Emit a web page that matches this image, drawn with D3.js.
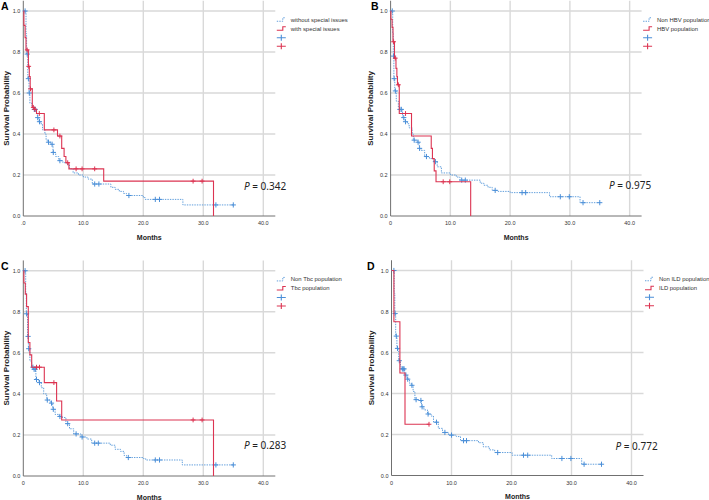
<!DOCTYPE html>
<html><head><meta charset="utf-8">
<script src="https://cdn.jsdelivr.net/npm/d3@7"></script>
<style>body{margin:0;background:#fff}</style>
</head><body>
<svg id="chart" width="709" height="500"></svg>
<script>
// ---------------- DATA ----------------
const panelLetters = ["A", "B", "C", "D"];
const legendLabels = [
  ["without special issues", "with special issues"],
  ["Non HBV population", "HBV population"],
  ["Non Tbc population", "Tbc population"],
  ["Non ILD population", "ILD population"]
];
const pValues = ["0.342", "0.975", "0.283", "0.772"];
const xTickValues = [0, 10, 20, 30, 40];
const xTickLabelsA = [".0", "10.0", "20.0", "30.0", "40.0"];
const xTickLabelsB = ["0", "10.0", "20.0", "30.0", "40.0"];
const yTickValues = [0, 0.2, 0.4, 0.6, 0.8, 1.0];
const yTickLabels = ["0.0", "0.2", "0.4", "0.6", "0.8", "1.0"];

// step curves: [time(months), survival]
const blueA = [[0,1.0],[0.45,0.89],[0.55,0.79],[0.75,0.67],[0.95,0.60],[1.1,0.55],[1.45,0.53],[1.75,0.52],[2.2,0.50],[2.35,0.48],[2.6,0.46],[2.9,0.45],[3.2,0.42],[3.6,0.40],[3.8,0.37],[4.1,0.36],[4.6,0.35],[4.95,0.31],[5.4,0.29],[5.9,0.27],[6.6,0.26],[7.3,0.25],[7.7,0.23],[8.3,0.21],[9.2,0.20],[10.0,0.19],[10.8,0.18],[11.5,0.156],[14.6,0.14],[15.3,0.13],[16.0,0.12],[16.7,0.11],[17.2,0.10],[20.0,0.09],[20.3,0.081],[26.6,0.054]];
const blueAEnd = 35;
const blueACens = [0.3,0.65,0.85,1.0,1.83,2.0,2.4,2.7,4.2,4.8,5.0,6.1,11.9,12.6,17.6,22.0,22.7,32.1,35];
const redA = [[0,1.0],[0.1,0.93],[0.3,0.87],[0.45,0.81],[0.85,0.73],[1.0,0.68],[1.15,0.62],[1.5,0.53],[1.85,0.52],[2.2,0.50],[3.5,0.42],[5.7,0.39],[6.4,0.33],[6.8,0.29],[7.1,0.26],[7.6,0.23],[13.4,0.17],[31.7,0.0]];
const redAEnd = 31.7;
const redACens = [0.65,0.9,1.2,1.67,1.9,2.67,5.1,6.1,7.4,8.8,9.8,11.9,28.3,29.8];

const blueB = [[0,1.0],[0.35,0.89],[0.45,0.78],[0.55,0.67],[0.7,0.61],[0.95,0.56],[1.3,0.53],[1.5,0.52],[2.0,0.48],[2.4,0.46],[2.8,0.45],[3.1,0.43],[3.6,0.40],[3.8,0.37],[4.5,0.36],[4.8,0.33],[5.1,0.32],[5.7,0.29],[6.5,0.28],[7.2,0.265],[7.8,0.24],[8.5,0.21],[10.0,0.20],[11.0,0.19],[11.6,0.175],[15.0,0.16],[15.6,0.15],[16.3,0.14],[17.0,0.125],[18.0,0.12],[20.0,0.114],[26.6,0.094],[31.7,0.065]];
const blueBEnd = 35;
const blueBCens = [0.28,0.5,0.6,0.8,1.55,1.8,2.2,2.5,3.95,4.6,4.85,6.0,7.5,11.9,12.5,17.5,22.0,22.6,28.4,29.9,32.2,35];
const redB = [[0,1.0],[0.05,0.96],[0.25,0.92],[0.4,0.85],[0.65,0.77],[0.9,0.72],[1.05,0.68],[1.15,0.64],[1.45,0.50],[3.5,0.39],[6.8,0.33],[7.0,0.28],[7.3,0.22],[7.6,0.167],[13.4,0.0]];
const redBEnd = 13.4;
const redBCens = [0.5,0.78,1.3,2.5,8.8,9.9];

const blueC = [[0,1.0],[0.4,0.89],[0.5,0.79],[0.7,0.68],[0.85,0.62],[1.1,0.56],[1.4,0.53],[1.7,0.52],[2.1,0.47],[2.6,0.455],[3.0,0.43],[3.4,0.40],[3.9,0.37],[4.5,0.355],[4.9,0.325],[5.3,0.30],[6.0,0.29],[6.3,0.285],[7.1,0.255],[7.7,0.23],[8.4,0.205],[9.6,0.19],[10.6,0.18],[11.4,0.16],[14.5,0.15],[15.3,0.13],[16.2,0.12],[16.8,0.10],[17.2,0.09],[20.0,0.085],[20.4,0.078],[26.5,0.054]];
const blueCEnd = 35;
const blueCCens = [0.3,0.55,0.8,0.9,1.6,1.8,2.0,2.2,2.7,4.0,4.7,5.0,6.1,7.4,8.8,9.8,11.9,12.5,17.5,22.0,22.7,32.1,35];
const redC = [[0,1.0],[0.1,0.94],[0.33,0.886],[0.55,0.825],[0.83,0.65],[1.1,0.59],[1.4,0.53],[3.5,0.455],[5.55,0.365],[6.4,0.273],[31.7,0.0]];
const redCEnd = 31.7;
const redCCens = [2.2,2.7,5.1,28.3,29.8];

const blueD = [[0,1.0],[0.45,0.89],[0.55,0.79],[0.7,0.68],[0.9,0.62],[1.2,0.56],[1.5,0.53],[1.7,0.52],[2.2,0.50],[2.3,0.49],[2.6,0.47],[3.0,0.45],[3.3,0.44],[3.6,0.41],[3.9,0.37],[4.5,0.366],[5.0,0.335],[5.4,0.32],[6.0,0.30],[6.6,0.29],[7.0,0.26],[7.8,0.23],[8.5,0.21],[9.5,0.197],[10.8,0.19],[11.5,0.17],[14.5,0.16],[15.3,0.14],[16.3,0.125],[17.2,0.112],[20.1,0.099],[26.7,0.083],[31.7,0.055]];
const blueDEnd = 35;
const blueDCens = [0.4,0.6,0.8,1.0,1.3,1.8,1.95,2.1,2.4,2.7,3.4,4.1,4.9,5.1,6.1,7.5,8.9,10.0,12.0,12.5,17.7,22.0,22.7,28.4,29.9,32.1,35];
const redD = [[0,1.0],[0.4,0.75],[1.4,0.50],[2.25,0.25]];
const redDEnd = 6.25;
const redDCens = [6.25];

// ---------------- LAYOUT ----------------
const layout = [
  {x0: 23.3, x1: 275.3, y0: 216, y1: 11, pX: 244, pY: 190, letterX: 1, labX: 6, xt: xTickLabelsA},
  {x0: 390.6, x1: 641.6, y0: 216, y1: 11, pX: 609, pY: 189, letterX: 371, labX: 370, xt: xTickLabelsB},
  {x0: 23.3, x1: 275.3, y0: 476, y1: 270.7, pX: 244, pY: 449, letterX: 1, labX: 6, xt: xTickLabelsB},
  {x0: 391.5, x1: 643.5, y0: 475.5, y1: 270.5, pX: 615.5, pY: 449.5, letterX: 367, labX: 371, xt: xTickLabelsB}
];
const series = [
  {blue: blueA, blueEnd: blueAEnd, blueCens: blueACens, red: redA, redEnd: redAEnd, redCens: redACens},
  {blue: blueB, blueEnd: blueBEnd, blueCens: blueBCens, red: redB, redEnd: redBEnd, redCens: redBCens},
  {blue: blueC, blueEnd: blueCEnd, blueCens: blueCCens, red: redC, redEnd: redCEnd, redCens: redCCens},
  {blue: blueD, blueEnd: blueDEnd, blueCens: blueDCens, red: redD, redEnd: redDEnd, redCens: redDCens}
];

const BLUE = "#629fdc", BLUE_C = "#4b8fd8", RED = "#dc3452", GRID = "#d9d9d9", AXIS = "#707070";
const svg = d3.select("#chart");

function valueAt(steps, t) {
  let v = steps[0][1];
  for (const [tt, s] of steps) { if (tt <= t) v = s; else break; }
  return v;
}
function cross(g, x, y, color, hw, hh, sw) {
  g.append("path").attr("d", `M${x-hw},${y}H${x+hw}M${x},${y-hh}V${y+hh}`)
    .attr("stroke", color).attr("stroke-width", sw || 1).attr("fill", "none");
}

layout.forEach((L, i) => {
  const S = series[i];
  const x = d3.scaleLinear().domain([0, 42]).range([L.x0, L.x1]);
  const y = d3.scaleLinear().domain([0, 1]).range([L.y0, L.y1]);
  const g = svg.append("g");
  const top = y(1.05);

  // grid
  g.selectAll(".hg").data(yTickValues.filter(v => v > 0)).enter().append("line")
    .attr("x1", L.x0).attr("x2", L.x1).attr("y1", d => y(d)).attr("y2", d => y(d))
    .attr("stroke", GRID).attr("stroke-width", 1.4);
  g.selectAll(".vg").data(xTickValues.filter(v => v > 0)).enter().append("line")
    .attr("x1", d => x(d)).attr("x2", d => x(d)).attr("y1", top).attr("y2", L.y0)
    .attr("stroke", GRID).attr("stroke-width", 1.4);

  // axes
  g.append("line").attr("x1", L.x0).attr("x2", L.x0).attr("y1", top).attr("y2", L.y0)
    .attr("stroke", AXIS).attr("stroke-width", 1);
  g.append("line").attr("x1", L.x0).attr("x2", L.x1).attr("y1", L.y0).attr("y2", L.y0)
    .attr("stroke", AXIS).attr("stroke-width", 1);

  // tick labels
  g.selectAll(".xt").data(xTickValues).enter().append("text")
    .attr("x", d => x(d)).attr("y", L.y0 + 9).attr("text-anchor", "middle")
    .attr("font-family", "Liberation Sans, Arial, sans-serif").attr("font-size", 5.5).attr("fill", "#333")
    .text((d, j) => L.xt[j]);
  g.selectAll(".yt").data(yTickValues).enter().append("text")
    .attr("x", L.x0 - 3).attr("y", d => y(d) + 2).attr("text-anchor", "end")
    .attr("font-family", "Liberation Sans, Arial, sans-serif").attr("font-size", 5.5).attr("fill", "#333")
    .text((d, j) => yTickLabels[j]);

  // axis titles
  g.append("text").attr("transform", `translate(${L.labX + 3},${(L.y0 + top) / 2}) rotate(-90)`)
    .attr("text-anchor", "middle").attr("font-family", "Liberation Sans, Arial, sans-serif")
    .attr("font-size", 8).attr("font-weight", "bold").attr("fill", "#222").text("Survival Probability");
  g.append("text").attr("x", (L.x0 + L.x1) / 2).attr("y", L.y0 + 23.5)
    .attr("text-anchor", "middle").attr("font-family", "Liberation Sans, Arial, sans-serif")
    .attr("font-size", 7).attr("font-weight", "bold").attr("fill", "#222").text("Months");

  // panel letter
  g.append("text").attr("x", L.letterX).attr("y", top + 9.5)
    .attr("font-family", "Liberation Sans, Arial, sans-serif").attr("font-size", 10.5)
    .attr("font-weight", "bold").attr("fill", "#000").text(panelLetters[i]);

  const line = d3.line().x(d => x(d[0])).y(d => y(d[1])).curve(d3.curveStepAfter);
  const bluePts = S.blue.concat([[S.blueEnd, S.blue[S.blue.length - 1][1]]]);
  const redPts = S.red.concat([[S.redEnd, S.red[S.red.length - 1][1]]]);

  g.append("path").attr("d", line(bluePts)).attr("fill", "none")
    .attr("stroke", BLUE).attr("stroke-width", 1).attr("stroke-dasharray", "1.4,1.1");
  S.blueCens.forEach(t => cross(g, x(t), y(valueAt(S.blue, t)), BLUE_C, 2.6, 2.6));

  g.append("path").attr("d", line(redPts)).attr("fill", "none")
    .attr("stroke", RED).attr("stroke-width", 1.1);
  S.redCens.forEach(t => cross(g, x(t), y(valueAt(S.red, t)), RED, 2.4, 2.4));

  // legend
  const lx = L.x1 + 1.5, ly = top + 19;
  g.append("path").attr("d", `M${lx},${ly + 1.5}H${lx + 6}V${ly - 2}H${lx + 9}`)
    .attr("fill", "none").attr("stroke", BLUE).attr("stroke-width", 1).attr("stroke-dasharray", "1.4,1.1");
  g.append("path").attr("d", `M${lx},${ly + 10.5}H${lx + 6}V${ly + 7}H${lx + 9}`)
    .attr("fill", "none").attr("stroke", RED).attr("stroke-width", 1.1);
  cross(g, lx + 4.5, ly + 18, BLUE_C, 4.5, 3, 1.1);
  cross(g, lx + 4.5, ly + 26.5, RED, 4.5, 3, 1.1);
  legendLabels[i].forEach((lab, j) => {
    g.append("text").attr("x", lx + 14).attr("y", ly + 2 + j * 9)
      .attr("font-family", "Liberation Sans, Arial, sans-serif").attr("font-size", 5.9).attr("fill", "#333")
      .text(lab);
  });

  // p value
  const pt = g.append("text").attr("x", L.pX).attr("y", L.pY)
    .attr("font-family", "Noto Sans, Open Sans, sans-serif").attr("font-size", 10).attr("fill", "#222");
  pt.append("tspan").attr("font-style", "italic").text("P");
  pt.append("tspan").text(" = " + pValues[i]);
});
</script>
</body></html>
